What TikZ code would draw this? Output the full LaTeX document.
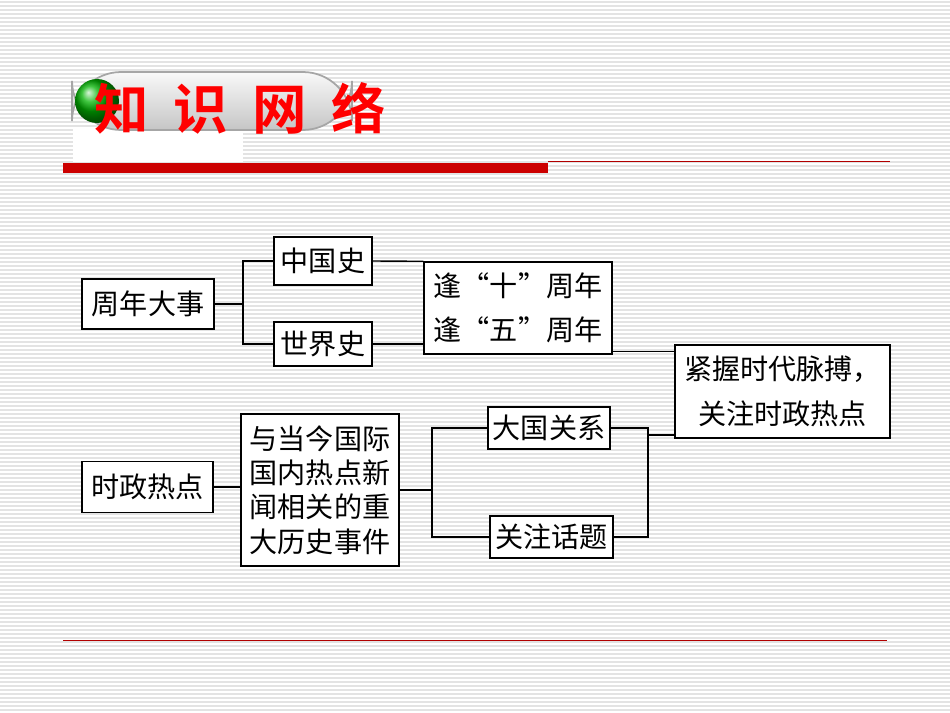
\documentclass[tikz,border=0pt]{standalone}
\usepackage{fontspec}
\newfontfamily\cjk{Noto Sans CJK SC}
\newfontfamily\cjkb{Noto Sans CJK SC Bold}
\begin{document}
\begin{tikzpicture}[x=0.02cm,y=-0.02cm,
  bx/.style={draw=black,line width=0.8pt,fill=white,inner sep=0pt,font=\cjk\fontsize{16}{22}\selectfont,align=center},
  ln/.style={line width=0.8pt}]
\useasboundingbox (0,0) rectangle (950,713);
\fill[white] (0,0) rectangle (950,713);
\foreach \y in {2,6,...,712} \draw[gray!22,line width=0.6pt] (0,\y) -- (950,\y);
% title
\fill[white] (73,128) rectangle (243,162);
\shade[top color=gray!5,bottom color=gray!45,draw=gray!70,line width=1pt,rounded corners=28] (72,72) rectangle (352,130);
\shade[ball color=green!70!black] (97,101) circle (22);
\node[font=\cjkb\fontsize{31}{31}\selectfont,text=red,anchor=west] (title) at (88,108) {知\hspace{0.45em}识\hspace{0.45em}网\hspace{0.45em}络};
\fill[red!80!black] (63,163) rectangle (548,173);
\draw[red!70!black,line width=0.6pt] (548,161.5) -- (890,161.5);
\draw[red!70!black,line width=0.5pt] (63,640) -- (887,640);
% nodes
\node[bx,minimum width=132*0.02cm,minimum height=50*0.02cm] (zn) at (148,304) {周年大事};
\node[bx,minimum width=98*0.02cm,minimum height=48*0.02cm] (zg) at (323,261) {中国史};
\node[bx,minimum width=98*0.02cm,minimum height=44*0.02cm] (sj) at (323,344) {世界史};
\node[bx,minimum width=188*0.02cm,minimum height=92*0.02cm,font=\cjk\fontsize{16}{25}\selectfont] (fe) at (518,308) {逢“十”周年\\逢“五”周年};
\node[bx,minimum width=215*0.02cm,minimum height=93*0.02cm,font=\cjk\fontsize{16}{26}\selectfont] (jw) at (782.5,391.5) {紧握时代脉搏，\\关注时政热点};
\node[bx,minimum width=131*0.02cm,minimum height=51*0.02cm] (sz) at (147.5,487) {时政热点};
\node[bx,minimum width=158*0.02cm,minimum height=152*0.02cm,font=\cjk\fontsize{16}{19.5}\selectfont] (yd) at (320,490) {与当今国际\\国内热点新\\闻相关的重\\大历史事件};
\node[bx,minimum width=122*0.02cm,minimum height=42*0.02cm] (dg) at (549,428) {大国关系};
\node[bx,minimum width=123*0.02cm,minimum height=42*0.02cm] (gz) at (551.5,537) {关注话题};
% connectors
\draw[ln] (zn.east) -- (243,304) coordinate (b1);
\draw[ln] (zg.west) -| (b1) |- (sj.west);
\draw[ln] (zg.east) -- (fe.north west);
\draw[ln] (sj.east) -- (sj.east -| fe.west);
\draw[ln] (fe.south east) ++(0,-3) -- ++(63,0);
\draw[ln] (sz.east) -- (sz.east -| yd.west);
\draw[ln] (yd.east) -- (432,490) coordinate (b2);
\draw[ln] (dg.west) -| (b2) |- (gz.west);
\draw[ln] (dg.east) -| (648,435) coordinate (b3);
\draw[ln] (gz.east) -| (b3);
\draw[ln] (b3) -- (b3 -| jw.west);
\end{tikzpicture}
\end{document}
